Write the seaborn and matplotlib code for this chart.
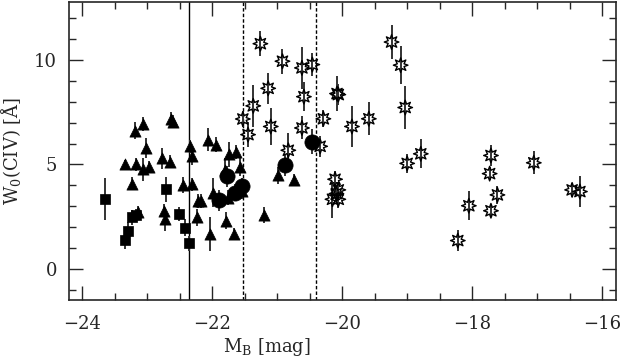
import numpy as np
import pandas as pd
import matplotlib
matplotlib.use("Agg")
import matplotlib.pyplot as plt
import seaborn as sns
from matplotlib.ticker import MultipleLocator, FuncFormatter

# Squares
sq_M = [-23.65, -23.34, -23.30, -23.24, -23.18, -22.71, -22.51, -22.42, -22.36]
sq_W = [3.33, 1.38, 1.83, 2.46, 2.57, 3.81, 2.63, 1.97, 1.21]
sq_E = [1.0, 0.45, 0.4, 0.35, 0.3, 0.6, 0.35, 0.4, 0.35]

# Triangles
tr_M = [-23.19, -23.07, -22.63, -22.61, -23.02, -23.34, -23.18, -23.06, -22.97, -22.78,
        -22.65, -23.23, -23.14, -22.74, -22.73, -22.45, -22.35, -22.31, -22.31, -22.22,
        -22.23, -22.07, -21.94, -21.74, -21.63, -21.57, -21.80, -21.99, -22.18, -22.04,
        -21.79, -21.67, -21.76, -21.55, -21.21, -20.99, -20.74]
tr_W = [6.62, 6.94, 7.20, 7.05, 5.79, 5.00, 5.00, 4.76, 4.87, 5.29,
        5.13, 4.08, 2.70, 2.78, 2.38, 4.02, 5.87, 5.40, 4.05, 3.25,
        2.46, 6.19, 5.95, 5.48, 5.59, 4.89, 4.73, 3.65, 3.25, 1.67,
        2.30, 1.67, 3.41, 3.73, 2.57, 4.48, 4.25]
tr_E = [0.4, 0.35, 0.3, 0.3, 0.5, 0.2, 0.3, 0.55, 0.3, 0.5,
        0.3, 0.3, 0.3, 0.3, 0.55, 0.4, 0.3, 0.45, 0.3, 0.35,
        0.4, 0.55, 0.35, 0.6, 0.35, 0.45, 0.6, 0.7, 0.35, 0.8,
        0.4, 0.3, 0.35, 0.4, 0.4, 0.4, 0.3]

# Circles
ci_M = [-21.77, -21.89, -21.65, -21.55, -20.88, -20.46]
ci_W = [4.44, 3.29, 3.65, 3.97, 4.97, 6.08]
ci_E = [0.5, 0.5, 0.4, 0.4, 0.5, 0.6]

# Stars
st_M = [-21.26, -20.92, -20.62, -20.46, -21.14, -20.59, -21.37, -21.53, -21.45, -21.10,
        -20.62, -20.83, -20.34, -20.29, -20.08, -20.06, -19.85, -19.59, -19.24, -19.10,
        -19.03, -19.00, -18.79, -20.11, -20.06, -20.15, -20.06, -20.09, -18.22, -18.05,
        -17.71, -17.73, -17.61, -17.71, -17.05, -16.46, -16.34]
st_W = [10.79, 9.95, 9.63, 9.79, 8.65, 8.25, 7.81, 7.18, 6.43, 6.82,
        6.75, 5.68, 5.87, 7.19, 8.40, 8.35, 6.82, 7.19, 10.87, 9.76,
        7.73, 5.05, 5.51, 4.29, 3.78, 3.33, 3.33, 3.60, 1.35, 3.02,
        5.43, 4.56, 3.54, 2.78, 5.08, 3.78, 3.70]
st_E = [0.6, 0.6, 1.0, 0.55, 0.75, 0.7, 1.0, 0.4, 0.6, 0.9,
        0.55, 0.85, 0.5, 0.4, 0.85, 0.5, 1.0, 0.8, 0.8, 0.9,
        1.05, 0.45, 0.7, 0.4, 0.4, 0.9, 0.4, 0.4, 0.5, 0.7,
        0.5, 0.3, 0.45, 0.3, 0.55, 0.35, 0.75]

vlines_solid = [-22.36]
vlines_dashed = [-21.53, -20.40]

frames = []
for name, M, W, E in [("square", sq_M, sq_W, sq_E), ("triangle", tr_M, tr_W, tr_E),
                      ("circle", ci_M, ci_W, ci_E), ("star", st_M, st_W, st_E)]:
    frames.append(pd.DataFrame({"M": M, "W": W, "E": E, "kind": name}))
df = pd.concat(frames, ignore_index=True)

sns.set_style("ticks")
plt.rcParams["font.family"] = ["DejaVu Serif"]
plt.rcParams["mathtext.fontset"] = "dejavuserif"

fig = plt.figure(figsize=(6.2, 3.58), dpi=100)
ax = fig.add_axes([0.112, 0.162, 0.882, 0.833])

for x in vlines_solid:
    ax.axvline(x, color="black", lw=1.0, zorder=1)
for x in vlines_dashed:
    ax.axvline(x, color="black", lw=1.0, ls=(0, (2.5, 1.5)), zorder=1)

ax.errorbar(df["M"], df["W"], yerr=df["E"], fmt="none", ecolor="#333333",
            elinewidth=1.4, capsize=0, zorder=2)

styles = {
    "square": dict(marker="s", s=55, color="black", edgecolor="black"),
    "triangle": dict(marker="^", s=65, color="black", edgecolor="black"),
    "circle": dict(marker="o", s=120, color="black", edgecolor="black"),
}
for kind, st in styles.items():
    sub = df[df["kind"] == kind]
    sns.scatterplot(data=sub, x="M", y="W", ax=ax, linewidth=0.5, zorder=3,
                    legend=False, **st)
sub = df[df["kind"] == "star"]
sns.scatterplot(data=sub, x="M", y="W", ax=ax, marker=(8, 1, 0), s=110,
                facecolor="none", edgecolor="black", linewidth=1.0, zorder=3,
                legend=False)

ax.set_xlim(-24.2, -15.78)
ax.set_ylim(-1.5, 12.8)
ax.xaxis.set_major_locator(MultipleLocator(2))
ax.xaxis.set_minor_locator(MultipleLocator(0.5))
ax.yaxis.set_major_locator(MultipleLocator(5))
ax.yaxis.set_minor_locator(MultipleLocator(1))
ax.tick_params(which="both", direction="in", top=True, right=True, width=1.0,
               labelsize=13)
ax.tick_params(axis="x", which="both", pad=11)
ax.tick_params(axis="y", which="both", pad=9)
ax.tick_params(which="major", length=10)
ax.tick_params(which="minor", length=5)
for sp in ax.spines.values():
    sp.set_linewidth(1.2)

ax.set_xlabel(r"M$_\mathrm{B}$ [mag]", fontsize=13)
ax.xaxis.set_label_coords(0.361, -0.12)
ax.set_ylabel(r"W$_0$(CIV) [Å]", fontsize=13, labelpad=8)
ax.xaxis.set_major_formatter(FuncFormatter(lambda v, p: f"{v:.0f}".replace("-", "\u2212")))

fig.savefig("out.png", dpi=100)
